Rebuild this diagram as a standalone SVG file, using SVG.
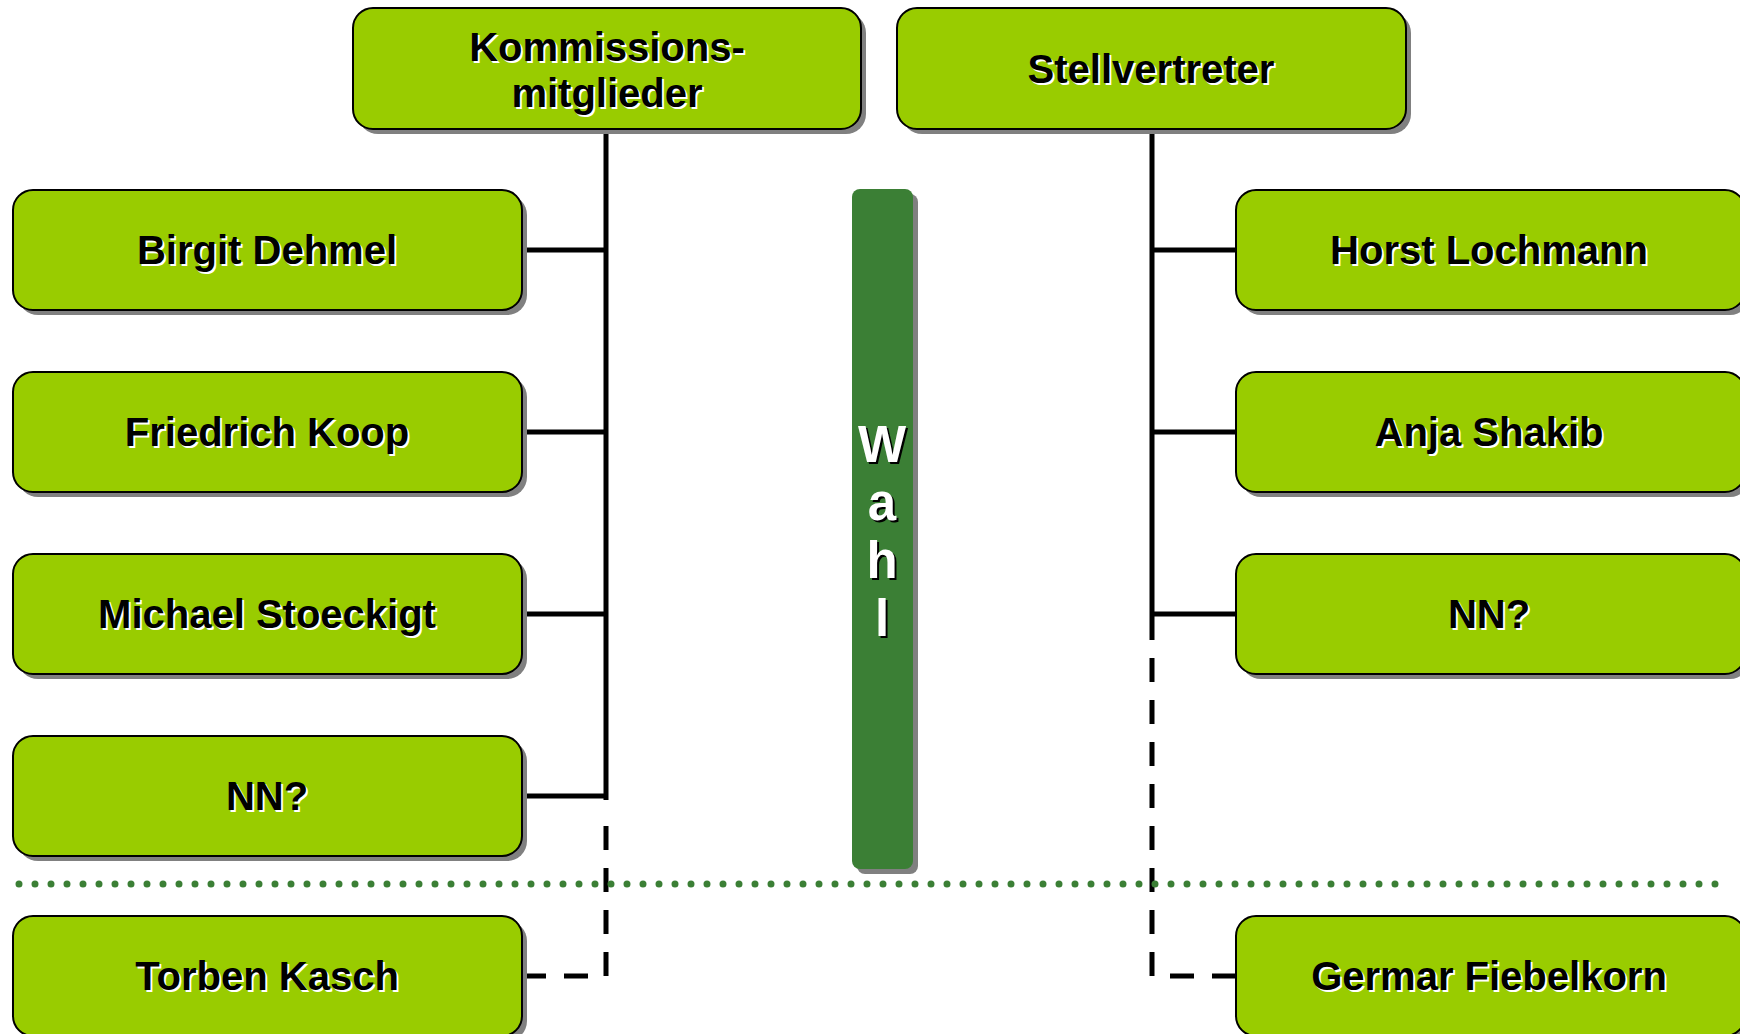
<svg xmlns="http://www.w3.org/2000/svg" width="1740" height="1034" viewBox="0 0 1740 1034">
<style>
.shadow{fill:#808080}
.box{fill:#99CC00;stroke:#000;stroke-width:2}
.t{font-family:"Liberation Sans",Arial,sans-serif;font-weight:bold;font-size:40px;text-anchor:middle}
.ts{fill:#fff}
.tf{fill:#000}
.w{font-family:"Liberation Sans",Arial,sans-serif;font-weight:bold;font-size:51px;text-anchor:middle}
.line{stroke:#000;stroke-width:5;fill:none}
.dash{stroke-dasharray:24 18}
.dots{stroke:#3B7F35;stroke-width:7;stroke-linecap:round;stroke-dasharray:0 16;fill:none}
</style>
<rect width="1740" height="1034" fill="#fff"/>

<g id="connectors">
  <path class="line" d="M606 129V800"/>
  <path class="line dash" d="M606 826V976"/>
  <path class="line" d="M522 250H606M522 432H606M522 614H606M522 796H606"/>
  <path class="line dash" d="M522 976H606"/>
  <path class="line" d="M1152 129V616"/>
  <path class="line dash" d="M1152 616V976"/>
  <path class="line" d="M1152 250H1236M1152 432H1236M1152 614H1236"/>
  <path class="line dash" d="M1236 976H1152"/>
</g>

<g id="wahl">
  <rect class="shadow" x="857" y="194" width="61" height="680" rx="8"/>
  <rect x="852" y="189" width="61" height="680" rx="8" fill="#3B7F35"/>
  <g class="w" fill="#000">
    <text x="884" y="464">W</text><text x="884" y="522">a</text><text x="884" y="580">h</text><text x="884" y="638">l</text>
  </g>
  <g class="w" fill="#fff">
    <text x="882" y="462">W</text><text x="882" y="520">a</text><text x="882" y="578">h</text><text x="882" y="636">l</text>
  </g>
</g>

<path id="separator" class="dots" d="M19 884H1722"/>

<g id="kommission">
  <rect class="shadow" x="358" y="13" width="508" height="121" rx="20"/>
  <rect class="box" x="353" y="8" width="508" height="121" rx="20"/>
  <text class="t ts" x="609" y="63">Kommissions-</text>
  <text class="t tf" x="607" y="61">Kommissions-</text>
  <text class="t ts" x="609" y="109">mitglieder</text>
  <text class="t tf" x="607" y="107">mitglieder</text>
</g>

<g id="stellvertreter">
  <rect class="shadow" x="902" y="13" width="509" height="121" rx="20"/>
  <rect class="box" x="897" y="8" width="509" height="121" rx="20"/>
  <text class="t ts" x="1153" y="85">Stellvertreter</text>
  <text class="t tf" x="1151" y="83">Stellvertreter</text>
</g>

<g id="birgit">
  <rect class="shadow" x="18" y="195" width="509" height="120" rx="20"/>
  <rect class="box" x="13" y="190" width="509" height="120" rx="20"/>
  <text class="t ts" x="269" y="266">Birgit Dehmel</text>
  <text class="t tf" x="267" y="264">Birgit Dehmel</text>
</g>

<g id="friedrich">
  <rect class="shadow" x="18" y="377" width="509" height="120" rx="20"/>
  <rect class="box" x="13" y="372" width="509" height="120" rx="20"/>
  <text class="t ts" x="269" y="448">Friedrich Koop</text>
  <text class="t tf" x="267" y="446">Friedrich Koop</text>
</g>

<g id="michael">
  <rect class="shadow" x="18" y="559" width="509" height="120" rx="20"/>
  <rect class="box" x="13" y="554" width="509" height="120" rx="20"/>
  <text class="t ts" x="269" y="630">Michael Stoeckigt</text>
  <text class="t tf" x="267" y="628">Michael Stoeckigt</text>
</g>

<g id="nn-left">
  <rect class="shadow" x="18" y="741" width="509" height="120" rx="20"/>
  <rect class="box" x="13" y="736" width="509" height="120" rx="20"/>
  <text class="t ts" x="269" y="812">NN?</text>
  <text class="t tf" x="267" y="810">NN?</text>
</g>

<g id="torben">
  <rect class="shadow" x="18" y="921" width="509" height="120" rx="20"/>
  <rect class="box" x="13" y="916" width="509" height="120" rx="20"/>
  <text class="t ts" x="269" y="992">Torben Kasch</text>
  <text class="t tf" x="267" y="990">Torben Kasch</text>
</g>

<g id="horst">
  <rect class="shadow" x="1241" y="195" width="509" height="120" rx="20"/>
  <rect class="box" x="1236" y="190" width="509" height="120" rx="20"/>
  <text class="t ts" x="1491" y="266">Horst Lochmann</text>
  <text class="t tf" x="1489" y="264">Horst Lochmann</text>
</g>

<g id="anja">
  <rect class="shadow" x="1241" y="377" width="509" height="120" rx="20"/>
  <rect class="box" x="1236" y="372" width="509" height="120" rx="20"/>
  <text class="t ts" x="1491" y="448">Anja Shakib</text>
  <text class="t tf" x="1489" y="446">Anja Shakib</text>
</g>

<g id="nn-right">
  <rect class="shadow" x="1241" y="559" width="509" height="120" rx="20"/>
  <rect class="box" x="1236" y="554" width="509" height="120" rx="20"/>
  <text class="t ts" x="1491" y="630">NN?</text>
  <text class="t tf" x="1489" y="628">NN?</text>
</g>

<g id="germar">
  <rect class="shadow" x="1241" y="921" width="509" height="120" rx="20"/>
  <rect class="box" x="1236" y="916" width="509" height="120" rx="20"/>
  <text class="t ts" x="1491" y="992">Germar Fiebelkorn</text>
  <text class="t tf" x="1489" y="990">Germar Fiebelkorn</text>
</g>
</svg>
